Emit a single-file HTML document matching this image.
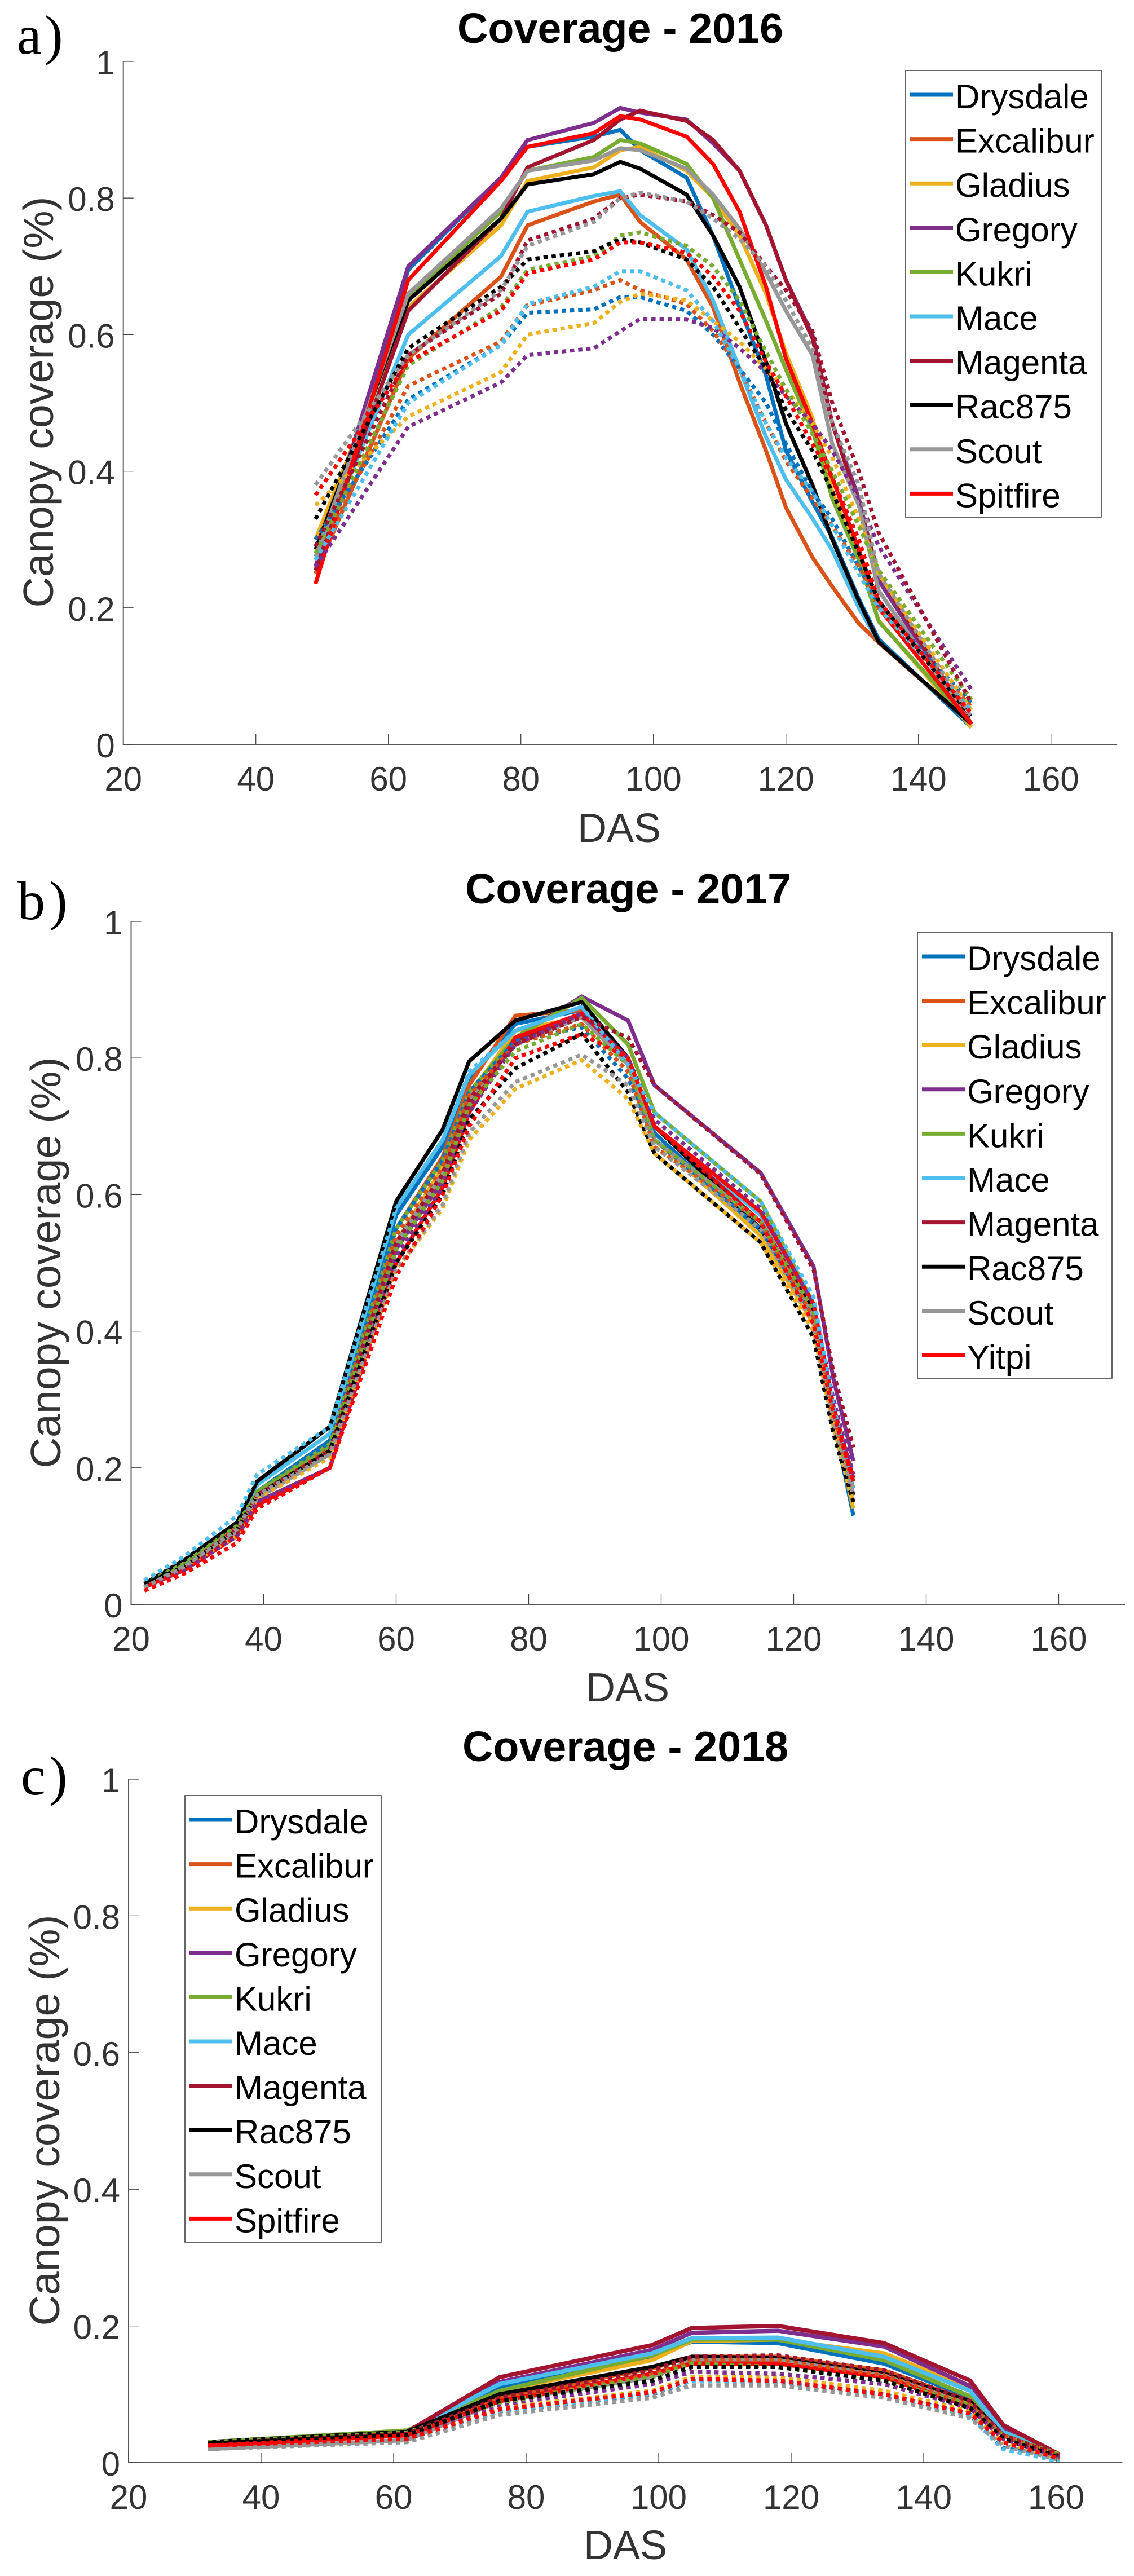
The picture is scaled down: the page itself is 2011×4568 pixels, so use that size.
<!DOCTYPE html>
<html lang="en">
<head>
<meta charset="utf-8">
<title>Canopy coverage 2016-2018</title>
<style>
html,body{margin:0;padding:0;background:#fff;}
svg{display:block;}
text{font-family:"Liberation Sans",Arial,sans-serif;}
.tick{font-size:60px;fill:#333;}
.title{font-size:75px;font-weight:bold;fill:#000;}
.xlab{font-size:72px;fill:#333;text-anchor:middle;}
.ylab{font-size:75.5px;fill:#333;text-anchor:middle;}
.letter{font-family:"Liberation Serif",serif;font-size:98px;fill:#000;}
.leg{font-size:60px;fill:#000;}
</style>
</head>
<body>
<svg id="fig" xmlns="http://www.w3.org/2000/svg" width="2011" height="4568" viewBox="0 0 2011 4568">
  <rect x="0" y="0" width="2011" height="4568" fill="#fff"/>

  <g id="panel-a">
    <text class="letter" x="30" y="95">a</text>
    <text class="letter" x="79" y="95">)</text>
    <text class="title" x="1100" y="76" text-anchor="middle" textLength="578" lengthAdjust="spacingAndGlyphs">Coverage - 2016</text>
    <text class="xlab" x="1098" y="1493">DAS</text>
    <text class="ylab" transform="translate(94 713) rotate(-90)" textLength="729" lengthAdjust="spacingAndGlyphs">Canopy coverage (%)</text>
  </g>
  <g id="panel-b">
    <text class="letter" x="31" y="1630">b</text>
    <text class="letter" x="87" y="1630">)</text>
    <text class="title" x="1114" y="1602" text-anchor="middle" textLength="578" lengthAdjust="spacingAndGlyphs">Coverage - 2017</text>
    <text class="xlab" x="1113" y="3017">DAS</text>
    <text class="ylab" transform="translate(107 2239) rotate(-90)" textLength="729" lengthAdjust="spacingAndGlyphs">Canopy coverage (%)</text>
  </g>
  <g id="panel-c">
    <text class="letter" x="37" y="3182">c</text>
    <text class="letter" x="87" y="3182">)</text>
    <text class="title" x="1109" y="3123" text-anchor="middle" textLength="578" lengthAdjust="spacingAndGlyphs">Coverage - 2018</text>
    <text class="xlab" x="1109" y="4538">DAS</text>
    <text class="ylab" transform="translate(105 3760) rotate(-90)" textLength="729" lengthAdjust="spacingAndGlyphs">Canopy coverage (%)</text>
  </g>
</svg>
<script>
// Shared categories and tick labels
const varietyNames = ["Drysdale","Excalibur","Gladius","Gregory","Kukri","Mace","Magenta","Rac875","Scout","Spitfire"];
const varietyNames2017 = ["Drysdale","Excalibur","Gladius","Gregory","Kukri","Mace","Magenta","Rac875","Scout","Yitpi"];
const xTickLabels = [20,40,60,80,100,120,140,160];
const yTickLabels = [0,0.2,0.4,0.6,0.8,1];

// 2016
const das2016 = [49,63,77,81,91,95,98,105,109,113,117,120,124,127,131,134,148];
const solid2016Drysdale  = [.26,.695,.83,.875,.89,.90,.87,.83,.745,.64,.54,.43,.355,.303,.213,.154,.025];
const solid2016Excalibur = [.25,.565,.685,.76,.795,.805,.765,.71,.64,.53,.43,.347,.274,.231,.177,.149,.03];
const solid2016Gladius   = [.30,.64,.76,.825,.845,.87,.875,.84,.80,.745,.66,.573,.478,.37,.27,.181,.025];
const solid2016Gregory   = [.26,.70,.83,.885,.91,.932,.925,.915,.88,.84,.76,.68,.60,.47,.36,.24,.03];
const solid2016Kukri     = [.27,.655,.78,.84,.86,.885,.88,.85,.80,.71,.62,.549,.46,.36,.27,.18,.03];
const solid2016Mace      = [.27,.60,.715,.78,.803,.81,.775,.725,.65,.55,.45,.388,.331,.284,.20,.15,.03];
const solid2016Magenta   = [.255,.635,.77,.845,.885,.915,.928,.913,.885,.84,.76,.68,.595,.47,.35,.25,.03];
const solid2016Rac875    = [.285,.65,.77,.82,.835,.853,.843,.805,.745,.67,.56,.47,.38,.30,.21,.15,.03];
const solid2016Scout     = [.275,.66,.785,.84,.855,.873,.87,.843,.805,.755,.69,.635,.57,.44,.35,.225,.03];
const solid2016Spitfire  = [.235,.68,.825,.875,.895,.92,.915,.89,.85,.78,.67,.565,.47,.39,.285,.20,.03];
const dotted2016Drysdale  = [.30,.505,.585,.632,.637,.655,.655,.635,.60,.55,.50,.44,.37,.33,.26,.205,.06];
const dotted2016Excalibur = [.28,.525,.59,.643,.665,.68,.665,.645,.605,.55,.47,.415,.36,.32,.26,.20,.055];
const dotted2016Gladius   = [.35,.48,.545,.60,.617,.648,.66,.65,.62,.59,.55,.52,.47,.42,.33,.25,.05];
const dotted2016Gregory   = [.26,.465,.53,.57,.58,.605,.623,.622,.61,.58,.545,.51,.47,.43,.36,.29,.08];
const dotted2016Kukri     = [.28,.555,.64,.695,.715,.745,.75,.73,.70,.65,.575,.52,.455,.40,.32,.255,.065];
const dotted2016Mace      = [.27,.50,.585,.645,.67,.693,.693,.665,.62,.55,.47,.42,.37,.32,.25,.20,.05];
const dotted2016Magenta   = [.29,.57,.66,.738,.77,.80,.805,.795,.775,.75,.70,.665,.605,.50,.40,.31,.06];
const dotted2016Rac875    = [.33,.58,.67,.71,.722,.74,.735,.71,.67,.61,.55,.49,.43,.37,.28,.21,.04];
const dotted2016Scout     = [.38,.57,.665,.73,.765,.80,.808,.795,.77,.74,.70,.65,.58,.47,.38,.25,.04];
const dotted2016Spitfire  = [.365,.56,.635,.69,.71,.735,.735,.72,.685,.635,.56,.51,.44,.39,.30,.21,.045];

// 2017
const das2017 = [22,28,36,39,50,60,67,71,78,88,95,99,115,123,126,129];
const solid2017Drysdale  = [.03,.06,.115,.165,.24,.57,.67,.77,.85,.87,.79,.69,.545,.43,.27,.13];
const solid2017Excalibur = [.03,.06,.115,.165,.23,.55,.655,.76,.862,.87,.80,.70,.56,.42,.27,.15];
const solid2017Gladius   = [.03,.055,.105,.155,.22,.53,.64,.745,.84,.86,.79,.68,.54,.41,.27,.14];
const solid2017Gregory   = [.025,.055,.105,.15,.20,.52,.62,.73,.83,.89,.855,.76,.632,.495,.33,.21];
const solid2017Kukri     = [.03,.06,.12,.165,.235,.55,.65,.75,.83,.888,.82,.72,.59,.44,.28,.17];
const solid2017Mace      = [.03,.065,.12,.175,.25,.58,.68,.775,.84,.875,.80,.70,.57,.44,.28,.17];
const solid2017Magenta   = [.025,.055,.11,.16,.225,.53,.63,.735,.825,.865,.80,.70,.56,.43,.29,.185];
const solid2017Rac875    = [.03,.065,.12,.18,.26,.59,.695,.795,.855,.882,.80,.70,.55,.43,.28,.16];
const solid2017Scout     = [.025,.055,.105,.155,.22,.53,.63,.74,.82,.86,.79,.68,.56,.42,.28,.17];
const solid2017Yitpi     = [.025,.05,.10,.145,.20,.50,.61,.72,.83,.865,.80,.70,.575,.44,.29,.18];
const dotted2017Drysdale  = [.03,.06,.115,.165,.235,.55,.65,.75,.825,.845,.77,.68,.55,.42,.27,.15];
const dotted2017Excalibur = [.03,.06,.11,.16,.23,.54,.64,.745,.82,.85,.78,.67,.56,.42,.27,.15];
const dotted2017Gladius   = [.03,.055,.10,.155,.215,.49,.58,.68,.755,.797,.74,.66,.53,.40,.26,.15];
const dotted2017Gregory   = [.025,.05,.10,.15,.20,.51,.61,.72,.82,.865,.80,.71,.58,.44,.30,.19];
const dotted2017Kukri     = [.03,.06,.115,.165,.23,.52,.62,.73,.81,.85,.79,.68,.56,.43,.27,.16];
const dotted2017Mace      = [.035,.07,.13,.19,.26,.58,.68,.78,.84,.875,.79,.72,.59,.45,.29,.17];
const dotted2017Magenta   = [.025,.055,.105,.16,.225,.53,.63,.74,.82,.86,.83,.76,.63,.49,.34,.23];
const dotted2017Rac875    = [.03,.055,.11,.16,.225,.50,.60,.71,.785,.835,.75,.66,.53,.39,.25,.15];
const dotted2017Scout     = [.025,.055,.11,.16,.22,.49,.585,.69,.765,.805,.76,.67,.55,.41,.27,.16];
const dotted2017Yitpi     = [.02,.045,.09,.14,.20,.48,.60,.70,.80,.835,.80,.70,.56,.41,.28,.18];

// 2018
const das2018 = [32,62,76,99,105,118,134,147,152,160.5];
const solid2018Drysdale  = [.025,.042,.11,.155,.177,.175,.145,.095,.04,.005];
const solid2018Excalibur = [.028,.043,.095,.138,.155,.155,.135,.09,.04,.01];
const solid2018Gladius   = [.028,.045,.105,.15,.178,.18,.16,.11,.05,.012];
const solid2018Gregory   = [.03,.045,.118,.165,.19,.193,.17,.112,.05,.012];
const solid2018Kukri     = [.03,.047,.105,.157,.18,.18,.15,.097,.045,.012];
const solid2018Mace      = [.03,.045,.115,.16,.182,.183,.155,.105,.045,.01];
const solid2018Magenta   = [.03,.045,.125,.172,.197,.20,.175,.12,.055,.012];
const solid2018Rac875    = [.03,.045,.10,.14,.155,.153,.13,.09,.04,.01];
const solid2018Scout     = [.02,.033,.09,.125,.15,.15,.127,.085,.04,.01];
const solid2018Spitfire  = [.025,.04,.09,.13,.145,.145,.125,.082,.04,.01];
const dotted2018Drysdale  = [.025,.036,.075,.10,.12,.118,.10,.07,.022,.004];
const dotted2018Excalibur = [.025,.04,.09,.13,.15,.15,.128,.085,.04,.008];
const dotted2018Gladius   = [.025,.038,.08,.105,.125,.125,.105,.075,.03,.006];
const dotted2018Gregory   = [.025,.038,.085,.115,.133,.13,.115,.08,.035,.008];
const dotted2018Kukri     = [.03,.044,.088,.125,.145,.14,.12,.085,.04,.012];
const dotted2018Mace      = [.025,.035,.075,.102,.12,.118,.10,.068,.02,.002];
const dotted2018Magenta   = [.028,.042,.095,.135,.155,.157,.135,.09,.04,.01];
const dotted2018Rac875    = [.028,.04,.09,.12,.14,.14,.12,.08,.035,.008];
const dotted2018Scout     = [.02,.03,.07,.095,.113,.113,.095,.065,.025,.004];
const dotted2018Spitfire  = [.025,.035,.078,.103,.122,.12,.10,.072,.03,.006];

const solidSeries2016 = [solid2016Drysdale,solid2016Excalibur,solid2016Gladius,solid2016Gregory,solid2016Kukri,solid2016Mace,solid2016Magenta,solid2016Rac875,solid2016Scout,solid2016Spitfire];
const dottedSeries2016 = [dotted2016Drysdale,dotted2016Excalibur,dotted2016Gladius,dotted2016Gregory,dotted2016Kukri,dotted2016Mace,dotted2016Magenta,dotted2016Rac875,dotted2016Scout,dotted2016Spitfire];
const solidSeries2017 = [solid2017Drysdale,solid2017Excalibur,solid2017Gladius,solid2017Gregory,solid2017Kukri,solid2017Mace,solid2017Magenta,solid2017Rac875,solid2017Scout,solid2017Yitpi];
const dottedSeries2017 = [dotted2017Drysdale,dotted2017Excalibur,dotted2017Gladius,dotted2017Gregory,dotted2017Kukri,dotted2017Mace,dotted2017Magenta,dotted2017Rac875,dotted2017Scout,dotted2017Yitpi];
const solidSeries2018 = [solid2018Drysdale,solid2018Excalibur,solid2018Gladius,solid2018Gregory,solid2018Kukri,solid2018Mace,solid2018Magenta,solid2018Rac875,solid2018Scout,solid2018Spitfire];
const dottedSeries2018 = [dotted2018Drysdale,dotted2018Excalibur,dotted2018Gladius,dotted2018Gregory,dotted2018Kukri,dotted2018Mace,dotted2018Magenta,dotted2018Rac875,dotted2018Scout,dotted2018Spitfire];

const seriesColors = ["#0072bd","#d95319","#edb120","#7e2f8e","#77ac30","#4dbeee","#a2142f","#000000","#979797","#ff0000"];

const panelA = {id:"panel-a",year:"2016",names:varietyNames,das:das2016,solid:solidSeries2016,dotted:dottedSeries2016,lineWidth:7,x0:218.7,y0:1320,y1:109,legX:1606,legY:125,legW:347,legH:792,legFirst:168};
const panelB = {id:"panel-b",year:"2017",names:varietyNames2017,das:das2017,solid:solidSeries2017,dotted:dottedSeries2017,lineWidth:7,x0:232.5,y0:2845,y1:1634,legX:1627,legY:1653,legW:345,legH:791,legFirst:1696};
const panelC = {id:"panel-c",year:"2018",names:varietyNames,das:das2018,solid:solidSeries2018,dotted:dottedSeries2018,lineWidth:7.5,x0:228,y0:4367,y1:3155,legX:328,legY:3184,legW:348,legH:792,legFirst:3227};

const NS = "http://www.w3.org/2000/svg";
const PX_PER_DAS = 11.75;
const LEG_STEP = 78.6;

function make(tag, attrs, parent){
  const el = document.createElementNS(NS, tag);
  for (const k in attrs) el.setAttribute(k, attrs[k]);
  parent.appendChild(el);
  return el;
}
function xScale(p, v){ return p.x0 + (v - 20) * PX_PER_DAS; }
function yScale(p, v){ return p.y0 - v * (p.y0 - p.y1); }
function pointsFor(p, vals){
  return vals.map(function(v, i){ return xScale(p, p.das[i]).toFixed(1) + "," + yScale(p, v).toFixed(1); }).join(" ");
}

function drawPanel(p){
  const g = document.getElementById(p.id);
  const xEnd = xScale(p, 170);

  p.solid.forEach(function(vals, i){
    const el = make("polyline", {points:pointsFor(p, vals), fill:"none", stroke:seriesColors[i], "stroke-width":p.lineWidth, "stroke-linejoin":"miter"}, g);
    
    
  });
  p.dotted.forEach(function(vals, i){
    const el = make("polyline", {points:pointsFor(p, vals), fill:"none", stroke:seriesColors[i], "stroke-width":p.lineWidth, "stroke-dasharray":"7.5 7"}, g);
    
    
  });

  const xAxis = make("line", {x1:p.x0, x2:xEnd, y1:p.y0, y2:p.y0, stroke:"#555", "stroke-width":2}, g);
  
  
  const yAxis = make("line", {x1:p.x0, x2:p.x0, y1:p.y0 + 1, y2:p.y1, stroke:"#555", "stroke-width":2}, g);
  
  

  xTickLabels.forEach(function(v){
    const x = xScale(p, v);
    const mark = make("line", {x1:x, x2:x, y1:p.y0, y2:p.y0 - 18, stroke:"#444", "stroke-width":1.3}, g);
    
    
    const label = make("text", {"class":"tick", x:x, y:p.y0 + 82, "text-anchor":"middle"}, g);
    label.textContent = String(v);
    
    
  });
  yTickLabels.forEach(function(v){
    const y = yScale(p, v);
    const mark = make("line", {x1:p.x0, x2:p.x0 + 18, y1:y, y2:y, stroke:"#444", "stroke-width":1.3}, g);
    
    
    const label = make("text", {"class":"tick", x:p.x0 - 15, y:y + 23, "text-anchor":"end"}, g);
    label.textContent = String(v);
    
    
  });

  const box = make("rect", {x:p.legX, y:p.legY, width:p.legW, height:p.legH, fill:"#fff", stroke:"#333", "stroke-width":1.5}, g);
  
  
  p.names.forEach(function(name, i){
    const y = p.legFirst + i * LEG_STEP;
    const swatch = make("line", {x1:p.legX + 8, x2:p.legX + 84, y1:y, y2:y, stroke:seriesColors[i], "stroke-width":7}, g);
    
    
    const label = make("text", {"class":"leg", x:p.legX + 88, y:y + 24}, g);
    label.textContent = name;
    
    
  });
}

drawPanel(panelA);
drawPanel(panelB);
drawPanel(panelC);
</script>
</body>
</html>
